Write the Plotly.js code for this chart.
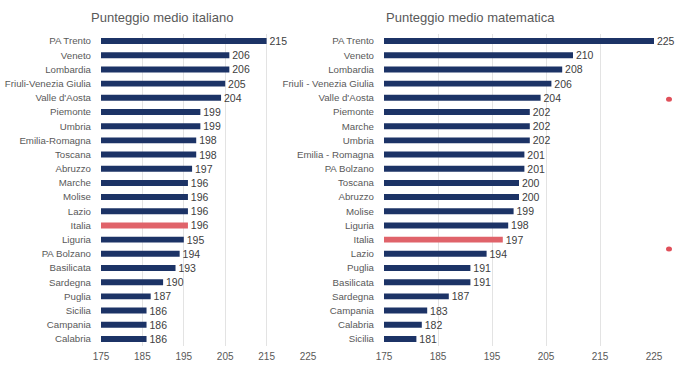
<!DOCTYPE html>
<html>
<head>
<meta charset="utf-8">
<script src="https://cdn.plot.ly/plotly-3.0.1.min.js"></script>
<style>html,body{margin:0;padding:0;background:#fff;}#chart{width:680px;height:373px;}</style>
</head>
<body>
<div id="chart"></div>
<script>
const regioniIta = ["PA Trento","Veneto","Lombardia","Friuli-Venezia Giulia","Valle d'Aosta","Piemonte","Umbria","Emilia-Romagna","Toscana","Abruzzo","Marche","Molise","Lazio","Italia","Liguria","PA Bolzano","Basilicata","Sardegna","Puglia","Sicilia","Campania","Calabria"];
const punteggiIta = [215,206,206,205,204,199,199,198,198,197,196,196,196,196,195,194,193,190,187,186,186,186];

const regioniMat = ["PA Trento","Veneto","Lombardia","Friuli - Venezia Giulia","Valle d'Aosta","Piemonte","Marche","Umbria","Emilia - Romagna","PA Bolzano","Toscana","Abruzzo","Molise","Liguria","Italia","Lazio","Puglia","Basilicata","Sardegna","Campania","Calabria","Sicilia"];
const punteggiMat = [225,210,208,206,204,202,202,202,201,201,200,200,199,198,197,194,191,191,187,183,182,181];

const xTicks = [175,185,195,205,215,225];
const titoli = ["Punteggio medio italiano","Punteggio medio matematica"];

const NAVY = "#1c3366";
const RED = "#e0636a";
const FONT = "Liberation Sans, Arial, sans-serif";
const colorsFor = cats => cats.map(c => c === "Italia" ? RED : NAVY);

function barTrace(vals, cats, xa, ya) {
  return {
    type: "bar", orientation: "h",
    x: vals, y: cats, xaxis: xa, yaxis: ya,
    marker: {color: colorsFor(cats)},
    text: vals.map(v => "\u00a0" + v), textposition: "outside", cliponaxis: false,
    constraintext: "none",
    textfont: {family: FONT, size: 10.5, color: "#404040"},
    hoverinfo: "x+y"
  };
}

const xCommon = {
  range: [175, 225], tickvals: xTicks, ticktext: xTicks.map(String),
  showgrid: true, gridcolor: "#e3e3e3", gridwidth: 1,
  zeroline: false, showline: false, ticks: "", ticklabelstandoff: 3,
  tickfont: {family: FONT, size: 10, color: "#595959"}, fixedrange: true
};
const yCommon = {
  autorange: "reversed", type: "category", showgrid: false, zeroline: false,
  showline: false, ticks: "", tickfont: {family: FONT, size: 9.7, color: "#595959"},
  ticklabelstandoff: 9, fixedrange: true
};

const layout = {
  width: 680, height: 373,
  margin: {l: 0, r: 0, t: 34, b: 27},
  paper_bgcolor: "#ffffff", plot_bgcolor: "#ffffff",
  showlegend: false,
  bargap: 0.58,
  font: {family: FONT},
  xaxis: Object.assign({}, xCommon, {domain: [101/680, 308/680], anchor: "y"}),
  xaxis2: Object.assign({}, xCommon, {domain: [384/680, 654/680], anchor: "y2"}),
  yaxis: Object.assign({}, yCommon, {anchor: "x"}),
  yaxis2: Object.assign({}, yCommon, {anchor: "x2"}),
  annotations: [
    {text: titoli[0], xref: "paper", yref: "paper", x: 162/680, y: 1, yshift: 17, xanchor: "center", yanchor: "middle", showarrow: false,
     font: {family: FONT, size: 13, color: "#595959"}},
    {text: titoli[1], xref: "paper", yref: "paper", x: 470/680, y: 1, yshift: 17, xanchor: "center", yanchor: "middle", showarrow: false,
     font: {family: FONT, size: 13, color: "#595959"}}
  ],
  shapes: [
    {type: "circle", xref: "paper", yref: "paper", x0: 666/680, x1: 672/680, y0: 1 - 81/373, y1: 1 - 75/373, fillcolor: "#e0505a", line: {width: 0}},
    {type: "circle", xref: "paper", yref: "paper", x0: 666/680, x1: 672/680, y0: 1 - 260/373, y1: 1 - 254/373, fillcolor: "#e0505a", line: {width: 0}}
  ]
};

Plotly.newPlot("chart", [barTrace(punteggiIta, regioniIta, "x", "y"), barTrace(punteggiMat, regioniMat, "x2", "y2")], layout, {displayModeBar: false, staticPlot: true});
</script>
</body>
</html>
